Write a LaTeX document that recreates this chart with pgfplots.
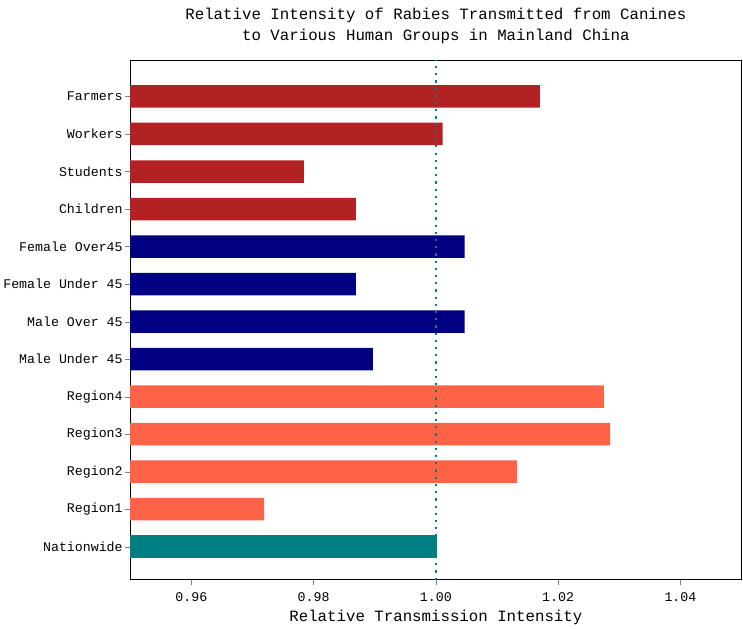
\documentclass[border=0pt]{standalone}
\usepackage{pgfplots}
\pgfplotsset{compat=1.18}
\usepackage{fontspec}
\setmainfont{Liberation Mono}
\definecolor{firebrick}{RGB}{178,34,34}
\definecolor{navyc}{RGB}{0,0,128}
\definecolor{tomatoc}{RGB}{255,99,71}
\definecolor{tealc}{RGB}{0,128,128}
\begin{document}
\begin{tikzpicture}[x=1bp,y=1bp]
\begin{axis}[
  scale only axis,
  width=611bp, height=519bp,
  xbar, bar width=0.6, bar shift=0pt,
  xmin=0.95, xmax=1.05,
  ymin=-0.88, ymax=12.96,
  xtick={0.96,0.98,1.00,1.02,1.04},
  xticklabel style={/pgf/number format/fixed,/pgf/number format/fixed zerofill,/pgf/number format/precision=2, yshift=-4bp},
  /pgf/number format/assume math mode=true,
  ytick={0,1,2,3,4,5,6,7,8,9,10,11,12},
  yticklabels={Nationwide,Region1,Region2,Region3,Region4,Male Under 45,Male Over 45,Female Under 45,Female Over45,Children,Students,Workers,Farmers},
  tick label style={font=\fontsize{13.3}{15}\selectfont},
  yticklabel style={xshift=1bp},
  tick align=outside,
  major tick length=5bp,
  xtick pos=bottom, ytick pos=left,
  axis line style={line width=0.9bp},
  xlabel={Relative Transmission Intensity},
  xlabel style={font=\fontsize{15.8}{18}\selectfont, yshift=-2bp},
  title={Relative Intensity of Rabies Transmitted from Canines\\to Various Human Groups in Mainland China},
  title style={align=center, font=\fontsize{15.8}{21}\selectfont, yshift=7bp},
  clip=true,
]
\addplot[draw=none, fill=firebrick] coordinates {(1.0170,12) (1.0011,11) (0.9784,10) (0.9869,9)};
\addplot[draw=none, fill=navyc] coordinates {(1.0047,8) (0.9869,7) (1.0047,6) (0.9897,5)};
\addplot[draw=none, fill=tomatoc] coordinates {(1.0275,4) (1.0285,3) (1.0133,2) (0.9719,1)};
\addplot[draw=none, fill=tealc] coordinates {(1.0002,0)};
\draw[tealc, line width=2.2bp, dash pattern=on 2.2bp off 5bp] (axis cs:1.0,-0.88) -- (axis cs:1.0,12.96);
\end{axis}
\path ([yshift=5bp]current bounding box.north) circle (0pt);
\path ([xshift=1bp]current bounding box.east) circle (0pt);
\end{tikzpicture}
\end{document}
